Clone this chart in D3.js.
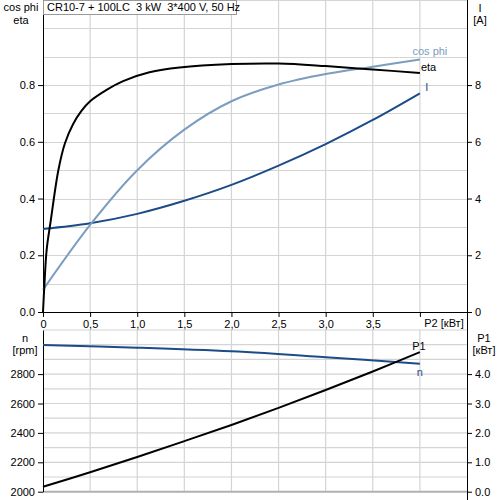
<!DOCTYPE html>
<html><head><meta charset="utf-8">
<script src="https://cdn.jsdelivr.net/npm/d3@7"></script>
<style>
body{margin:0;background:#fff;}
svg text{font-family:"Liberation Sans",Arial,sans-serif;font-size:11px;fill:#000;}
</style></head>
<body><svg id="c" width="500" height="500"></svg>
<script>
// ---- data ----
const title = "CR10-7 + 100LC  3 kW  3*400 V, 50 Hz";
const p2Eta = [0, 0.014, 0.039, 0.083, 0.163, 0.233, 0.32, 0.41, 0.5, 0.675, 0.85, 1.13, 1.45, 2.0, 2.5, 3.0, 3.5, 4.0];
const etaVals = [0, 0.09, 0.22, 0.324, 0.50, 0.595, 0.663, 0.71, 0.743, 0.783, 0.814, 0.845, 0.862, 0.874, 0.876, 0.867, 0.855, 0.843];
const p2Vals = [0, 0.5, 1.0, 1.5, 2.0, 2.5, 3.0, 3.5, 4.0];
const cosPhiVals = [0.078, 0.307, 0.50, 0.643, 0.743, 0.802, 0.839, 0.865, 0.89];
const currentVals = [2.93, 3.13, 3.46, 3.92, 4.48, 5.16, 5.92, 6.77, 7.71];
const p1Vals = [0.17, 0.66, 1.18, 1.72, 2.27, 2.85, 3.46, 4.09, 4.75];
const p2Speed = [0, 1, 2, 3, 4];
const speedVals = [2998, 2980, 2955, 2915, 2870];
const xTicks = [0, 0.5, 1.0, 1.5, 2.0, 2.5, 3.0, 3.5, 4.0];
const xTickLabels = ["0", "0,5", "1,0", "1,5", "2,0", "2,5", "3,0", "3,5", ""];
const leftTicksTop = [0, 0.2, 0.4, 0.6, 0.8];
const rightTicksTop = [0, 2, 4, 6, 8];
const leftTicksBot = [2000, 2200, 2400, 2600, 2800];
const rightTicksBot = [0, 1, 2, 3, 4];

const lightBlue = "#7b9dc0", darkBlue = "#1b4c88", grid = "#d4d4d4";
const svg = d3.select("#c");
const L = 43, R = 467;
const x = d3.scaleLinear().domain([0, 4.5]).range([L, R]);
const yT = d3.scaleLinear().domain([0, 1.1]).range([312, 0]);
const yI = d3.scaleLinear().domain([0, 11]).range([312, 0]);
const yN = d3.scaleLinear().domain([2000, 3100]).range([491.7, 330]);
const yP = d3.scaleLinear().domain([0, 5.5]).range([491.7, 330]);

// ---- top grid ----
const gT = svg.append("g");
gT.selectAll("line.h").data(d3.range(1, 12).map(i => i / 10)).join("line")
  .attr("x1", L).attr("x2", R).attr("y1", d => Math.round(yT(d)) + 0.5).attr("y2", d => Math.round(yT(d)) + 0.5)
  .attr("stroke", grid).attr("stroke-width", 1.2);
gT.selectAll("line.v").data(xTicks.slice(1)).join("line")
  .attr("x1", d => x(d)).attr("x2", d => x(d)).attr("y1", 0).attr("y2", 312)
  .attr("stroke", grid).attr("stroke-width", 1.2);

// ---- bottom grid ----
const gB = svg.append("g");
gB.selectAll("line.h").data(d3.range(2100, 3101, 100)).join("line")
  .attr("x1", L).attr("x2", R).attr("y1", d => yN(d)).attr("y2", d => yN(d))
  .attr("stroke", grid).attr("stroke-width", 1.2);
gB.selectAll("line.v").data(xTicks.slice(1)).join("line")
  .attr("x1", d => x(d)).attr("x2", d => x(d)).attr("y1", 330).attr("y2", 491.7)
  .attr("stroke", grid).attr("stroke-width", 1.2);
svg.append("line").attr("x1", L).attr("x2", R).attr("y1", 491.7).attr("y2", 491.7).attr("stroke", "#b0b0b0").attr("stroke-width", 2);

// ---- axes ----
function styleAxis(g) {
  g.select(".domain").attr("stroke", "#000");
  g.selectAll(".tick line").attr("stroke", "#000");
  g.selectAll("text").attr("font-size", 11);
}
svg.append("g").attr("transform", "translate(0,312)")
  .call(d3.axisBottom(x).tickValues(xTicks).tickFormat((d, i) => xTickLabels[i]).tickSize(5).tickSizeOuter(0))
  .call(styleAxis).call(g => g.select(".domain").attr("d", `M${L},0.5H${R}`));
svg.append("g").attr("transform", `translate(${L},0)`)
  .call(d3.axisLeft(yT).tickValues(leftTicksTop).tickFormat(d3.format(".1f")).tickSize(5).tickSizeOuter(0))
  .call(styleAxis);
svg.append("g").attr("transform", `translate(${R},0)`)
  .call(d3.axisRight(yI).tickValues(rightTicksTop).tickFormat(d3.format("d")).tickSize(5).tickSizeOuter(0))
  .call(styleAxis);
svg.append("g").attr("transform", `translate(${L},0)`)
  .call(d3.axisLeft(yN).tickValues(leftTicksBot).tickFormat(d3.format("d")).tickSize(5).tickSizeOuter(0))
  .call(styleAxis);
svg.append("g").attr("transform", `translate(${R},0)`)
  .call(d3.axisRight(yP).tickValues(rightTicksBot).tickFormat(d3.format(".1f")).tickSize(5).tickSizeOuter(0))
  .call(styleAxis);
svg.append("line").attr("x1", R + 0.5).attr("x2", R + 0.5).attr("y1", 0).attr("y2", 500).attr("stroke", "#000");

// ---- curves ----
const line = (ys) => d3.line().x(d => x(d[0])).y(d => ys(d[1])).curve(d3.curveCatmullRom.alpha(0.5));
const zip = (a, b) => a.map((v, i) => [v, b[i]]);
svg.append("path").datum(zip(p2Vals, currentVals)).attr("d", line(yI)).attr("fill", "none").attr("stroke", darkBlue).attr("stroke-width", 2);
svg.append("path").datum(zip(p2Vals, cosPhiVals)).attr("d", line(yT)).attr("fill", "none").attr("stroke", lightBlue).attr("stroke-width", 2);
svg.append("path").datum(zip(p2Eta, etaVals)).attr("d", line(yT)).attr("fill", "none").attr("stroke", "#000").attr("stroke-width", 2);
svg.append("path").datum(zip(p2Speed, speedVals)).attr("d", line(yN)).attr("fill", "none").attr("stroke", darkBlue).attr("stroke-width", 2);
svg.append("path").datum(zip(p2Vals, p1Vals)).attr("d", line(yP)).attr("fill", "none").attr("stroke", "#000").attr("stroke-width", 2);

// ---- curve labels ----
svg.append("text").attr("x", x(4.0) + 10).attr("y", 55).attr("text-anchor", "middle").style("fill", lightBlue).text("cos phi");
svg.append("text").attr("x", x(4.0) + 1).attr("y", 71).style("fill", "#000").text("eta");
svg.append("text").attr("x", x(4.0) + 7).attr("y", 91).attr("text-anchor", "middle").style("fill", darkBlue).text("I");
svg.append("text").attr("x", x(4.0) - 1).attr("y", 350).attr("text-anchor", "middle").text("P1");
svg.append("text").attr("x", x(4.0)).attr("y", 376).attr("text-anchor", "middle").style("fill", darkBlue).text("n");

// ---- axis titles ----
svg.append("text").attr("x", 21).attr("y", 11).attr("text-anchor", "middle").text("cos phi");
svg.append("text").attr("x", 21).attr("y", 24).attr("text-anchor", "middle").text("eta");
svg.append("text").attr("x", 480).attr("y", 12).attr("text-anchor", "middle").text("I");
svg.append("text").attr("x", 480).attr("y", 24).attr("text-anchor", "middle").text("[A]");
svg.append("text").attr("x", 444).attr("y", 327).attr("text-anchor", "middle").text("P2 [кВт]");
svg.append("text").attr("x", 25).attr("y", 342).attr("text-anchor", "middle").text("n");
svg.append("text").attr("x", 25).attr("y", 354).attr("text-anchor", "middle").text("[rpm]");
svg.append("text").attr("x", 484).attr("y", 342).attr("text-anchor", "middle").text("P1");
svg.append("text").attr("x", 484).attr("y", 354).attr("text-anchor", "middle").text("[кВт]");

// ---- title box ----
svg.append("rect").attr("x", L + 0.5).attr("y", 0.5).attr("width", 193).attr("height", 14).attr("fill", "#fff").attr("stroke", "#999");
svg.append("text").attr("x", L + 4).attr("y", 11).style("white-space", "pre").attr("xml:space", "preserve").text(title);
</script></body></html>
